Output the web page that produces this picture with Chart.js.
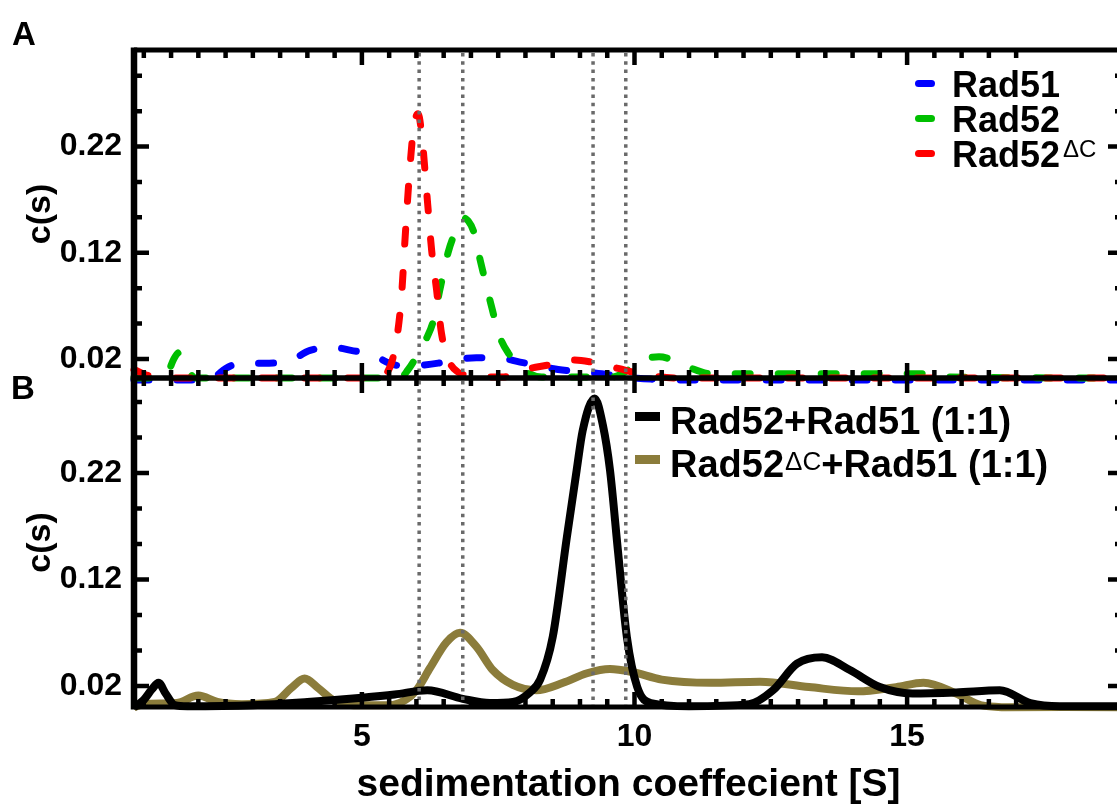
<!DOCTYPE html>
<html>
<head>
<meta charset="utf-8">
<script src="https://cdn.jsdelivr.net/npm/chart.js@4.4.1/dist/chart.umd.min.js"></script>
<style>
  html, body { margin: 0; padding: 0; background: #fff; }
  body {
    width: 1117px; height: 805px; overflow: hidden; position: relative;
    font-family: "Liberation Sans", Arial, sans-serif; font-weight: bold; color: #000;
  }
  canvas { position: absolute; left: 0; }
  #chartA { top: 0; }
  #chartB { top: 350px; }
  .letter { position: absolute; font-size: 33px; line-height: 33px; }
  .legend { position: absolute; white-space: nowrap; }
  .legend .row { display: block; }
  .legend .swatch { display: inline-block; position: relative; vertical-align: baseline; }
  .legend sup { font-weight: normal; line-height: 0; margin-left: 3px; }
  #legendA { left: 915px; top: 67px; font-size: 36px; line-height: 35px; }
  #legendA .swatch { width: 20px; height: 7px; border-radius: 3.5px; margin-right: 17px; top: -10px; }
  #legendA sup { font-size: 24px; vertical-align: 10px; }
  #legendB { left: 635px; top: 400px; font-size: 38px; line-height: 43px; }
  #legendB .swatch { width: 25px; height: 9px; margin-right: 10px; top: -13px; }
  #legendB sup { font-size: 26px; vertical-align: 7px; margin-left: 1px; }
</style>
</head>
<body>
<canvas id="chartA" width="1126" height="403"></canvas>
<canvas id="chartB" width="1126" height="455"></canvas>
<div class="letter" style="left:12px; top:17px;">A</div>
<div class="letter" style="left:11px; top:371px;">B</div>
<div class="legend" id="legendA"></div>
<div class="legend" id="legendB"></div>
<script>
// Axis ranges and ticks
const sMin = 0.82;
const sMax = 18.96;
const sTicksMajor = [5, 10, 15];
const sMinorFrom = 1;
const sMinorTo = 17;
const sMinorStep = 0.5;
const cTicksMajor = [0.02, 0.12, 0.22];
const cMinorStep = 0.1 / 3;
const cMinorCount = 8;
const cRangeA = [0.002, 0.311];
const cRangeB = [0.0003, 0.3093];

// dotted reference positions (S)
const markerS = [6.05, 6.85, 9.24, 9.84];

// Panel A: single proteins
const rad51S = [0.82, 2.1, 2.3, 2.5, 2.8, 3.3, 3.7, 4.05, 4.45, 4.8, 5.2, 5.5, 5.8, 6.1, 6.4, 6.8, 7.1, 7.5, 7.9, 8.3, 8.6, 9.0, 9.4, 9.8, 10.3, 11.0, 18.96];
const rad51C = [0.0, 0.0, 0.003, 0.011, 0.016, 0.016, 0.019, 0.028, 0.031, 0.028, 0.024, 0.016, 0.013, 0.014, 0.016, 0.02, 0.021, 0.021, 0.017, 0.013, 0.01, 0.008, 0.006, 0.003, 0.001, 0.0, 0.0];

const rad52S = [0.82, 1.3, 1.45, 1.55, 1.65, 1.78, 1.95, 5.7, 5.85, 6.0, 6.2, 6.3, 6.43, 6.58, 6.7, 6.85, 6.95, 7.05, 7.17, 7.35, 7.53, 7.68, 7.95, 8.3, 9.6, 9.9, 10.15, 10.45, 10.75, 11.0, 11.4, 12.0, 15.3, 15.8, 18.96];
const rad52C = [0.002, 0.002, 0.008, 0.02, 0.026, 0.012, 0.002, 0.002, 0.01, 0.022, 0.041, 0.054, 0.085, 0.12, 0.138, 0.153, 0.15, 0.14, 0.113, 0.075, 0.041, 0.026, 0.01, 0.003, 0.003, 0.01, 0.019, 0.022, 0.018, 0.012, 0.006, 0.006, 0.006, 0.003, 0.002];

const rad52dcS = [0.82, 1.1, 1.5, 5.3, 5.45, 5.6, 5.72, 5.8, 5.88, 5.95, 6.03, 6.1, 6.2, 6.28, 6.37, 6.46, 6.6, 6.75, 7.0, 7.6, 8.0, 8.4, 8.9, 9.3, 9.7, 10.2, 10.8, 18.96];
const rad52dcC = [0.01, 0.004, 0.002, 0.002, 0.006, 0.028, 0.075, 0.14, 0.2, 0.238, 0.251, 0.23, 0.17, 0.122, 0.085, 0.044, 0.018, 0.008, 0.004, 0.003, 0.01, 0.014, 0.019, 0.016, 0.011, 0.005, 0.002, 0.002];

// Panel B: mixtures
const mixS = [0.82, 1.0, 1.15, 1.27, 1.4, 1.57, 1.8, 3.0, 4.0, 5.0, 5.6, 6.2, 6.85, 7.35, 7.77, 8.08, 8.27, 8.5, 8.76, 8.94, 9.05, 9.27, 9.42, 9.55, 9.7, 9.86, 10.05, 10.3, 11.0, 12.1, 12.54, 12.98, 13.44, 13.95, 14.5, 15.1, 15.9, 16.7, 17.26, 17.8, 18.96];
const mixC = [0.0, 0.007, 0.017, 0.023, 0.013, 0.002, 0.001, 0.002, 0.005, 0.009, 0.012, 0.016, 0.008, 0.004, 0.005, 0.014, 0.026, 0.066, 0.16, 0.223, 0.26, 0.29, 0.265, 0.223, 0.145, 0.066, 0.019, 0.004, 0.001, 0.003, 0.016, 0.041, 0.047, 0.035, 0.019, 0.013, 0.014, 0.016, 0.004, 0.001, 0.001];

const mixDcS = [0.82, 1.0, 1.6, 2.0, 2.35, 2.8, 3.4, 3.7, 3.95, 4.2, 4.5, 5.0, 5.5, 5.8, 6.0, 6.25, 6.55, 6.8, 7.1, 7.4, 7.77, 8.2, 8.69, 9.13, 9.55, 9.97, 10.5, 11.4, 12.3, 13.2, 14.1, 14.8, 15.3, 15.9, 16.35, 16.8, 18.96];
const mixDcC = [0.0, 0.003, 0.004, 0.011, 0.005, 0.003, 0.005, 0.018, 0.027, 0.018, 0.006, 0.002, 0.002, 0.007, 0.016, 0.037, 0.061, 0.07, 0.057, 0.035, 0.021, 0.016, 0.023, 0.032, 0.036, 0.033, 0.026, 0.023, 0.024, 0.019, 0.015, 0.019, 0.023, 0.013, 0.002, 0.0, 0.0];

const seriesA = [
  { label: "Rad51", html: "Rad51", s: rad51S, c: rad51C, color: "#0000ff", order: 2 },
  { label: "Rad52", html: "Rad52", s: rad52S, c: rad52C, color: "#00bf00", order: 1 },
  { label: "Rad52ΔC", html: "Rad52<sup>ΔC</sup>", s: rad52dcS, c: rad52dcC, color: "#ff0000", order: 0 },
];
const seriesB = [
  { label: "Rad52+Rad51 (1:1)", html: "Rad52+Rad51 (1:1)", s: mixS, c: mixC, color: "#000000", order: 0 },
  { label: "Rad52ΔC+Rad51 (1:1)", html: "Rad52<sup>ΔC</sup>+Rad51 (1:1)", s: mixDcS, c: mixDcC, color: "#8b7c3b", order: 1 },
];

function toPoints(s, c) {
  return s.map((v, i) => ({ x: v, y: c[i] }));
}

// frame, inward ticks and dotted markers
const framePlugin = {
  id: "frame",
  afterDatasetsDraw(chart) {
    const { ctx, chartArea: a } = chart;
    const x = chart.scales.x;
    const y = chart.scales.y;
    ctx.save();

    ctx.strokeStyle = "#6a6a6a";
    ctx.lineWidth = 3.5;
    ctx.setLineDash([3.5, 4.8]);
    markerS.forEach((s) => {
      const px = x.getPixelForValue(s);
      ctx.beginPath();
      ctx.moveTo(px, a.top + 3);
      ctx.lineTo(px, a.bottom);
      ctx.stroke();
    });
    ctx.setLineDash([]);

    ctx.strokeStyle = "#000";
    ctx.lineWidth = 4.5;
    for (let s = sMinorFrom; s <= sMinorTo + 1e-9; s += sMinorStep) {
      const px = x.getPixelForValue(s);
      const len = sTicksMajor.includes(s) ? 15 : 8;
      ctx.beginPath();
      ctx.moveTo(px, a.top);
      ctx.lineTo(px, a.top + len);
      ctx.moveTo(px, a.bottom);
      ctx.lineTo(px, a.bottom - len);
      ctx.stroke();
    }
    for (let k = 0; k <= cMinorCount; k++) {
      const py = y.getPixelForValue(cTicksMajor[0] + k * cMinorStep);
      const len = k % 3 === 0 ? 15 : 8;
      ctx.beginPath();
      ctx.moveTo(a.left, py);
      ctx.lineTo(a.left + len, py);
      ctx.moveTo(a.right, py);
      ctx.lineTo(a.right - len, py);
      ctx.stroke();
    }

    ctx.lineWidth = 5;
    ctx.beginPath();
    ctx.moveTo(a.left, a.top);
    ctx.lineTo(a.right, a.top);
    ctx.moveTo(a.left, a.bottom);
    ctx.lineTo(a.right, a.bottom);
    ctx.stroke();
    ctx.lineWidth = 6.5;
    ctx.beginPath();
    ctx.moveTo(a.left, a.top - 2.5);
    ctx.lineTo(a.left, a.bottom + 2.5);
    ctx.stroke();
    ctx.restore();
  },
};

function makeChart(id, series, range, dashed, showX, padding) {
  const ctx = document.getElementById(id).getContext("2d");
  return new Chart(ctx, {
    type: "line",
    data: {
      datasets: series.map((d) => ({
        label: d.label,
        data: toPoints(d.s, d.c),
        borderColor: d.color,
        borderWidth: dashed ? 7 : 8,
        borderDash: dashed ? [15, 28] : [],
        borderCapStyle: dashed ? "round" : "butt",
        borderJoinStyle: "round",
        pointRadius: 0,
        fill: false,
        cubicInterpolationMode: "monotone",
        clip: false,
        order: d.order,
      })),
    },
    options: {
      responsive: false,
      animation: false,
      devicePixelRatio: 1,
      layout: { padding: padding },
      plugins: { legend: { display: false }, tooltip: { enabled: false } },
      scales: {
        x: {
          type: "linear",
          min: sMin,
          max: sMax,
          display: showX,
          grid: { display: false },
          border: { display: false },
          afterBuildTicks: (scale) => {
            scale.ticks = sTicksMajor.map((v) => ({ value: v }));
          },
          afterFit: (scale) => {
            scale.height = showX ? 98 : 0;
          },
          ticks: {
            padding: 3,
            color: "#000",
            font: { family: "'Liberation Sans', Arial, sans-serif", size: 32, weight: "bold" },
            callback: (v) => String(v),
          },
          title: {
            display: true,
            text: "sedimentation coeffecient [S]",
            color: "#000",
            padding: { top: 0, bottom: 0 },
            font: { family: "'Liberation Sans', Arial, sans-serif", size: 39, weight: "bold", lineHeight: 1 },
          },
        },
        y: {
          type: "linear",
          min: range[0],
          max: range[1],
          grid: { display: false },
          border: { display: false },
          afterBuildTicks: (scale) => {
            scale.ticks = cTicksMajor.map((v) => ({ value: v }));
          },
          afterFit: (scale) => {
            scale.width = 134;
          },
          ticks: {
            padding: 4,
            color: "#000",
            font: { family: "'Liberation Sans', Arial, sans-serif", size: 32, weight: "bold" },
            callback: (v) => v.toFixed(2),
          },
          title: {
            display: true,
            text: "c(s)",
            color: "#000",
            padding: { top: 24, bottom: 0 },
            font: { family: "'Liberation Sans', Arial, sans-serif", size: 34, weight: "bold", lineHeight: 1 },
          },
        },
      },
    },
    plugins: [framePlugin],
  });
}

function buildLegend(id, series) {
  const box = document.getElementById(id);
  box.innerHTML = series
    .map((d) => `<span class="row"><span class="swatch" style="background:${d.color}"></span>${d.html}</span>`)
    .join("");
}

makeChart("chartA", seriesA, cRangeA, true, false, { top: 50, left: 0, right: 3, bottom: 25 });
makeChart("chartB", seriesB, cRangeB, false, true, { top: 28, left: 0, right: 3, bottom: 0 });
buildLegend("legendA", seriesA);
buildLegend("legendB", seriesB);
</script>
</body>
</html>
